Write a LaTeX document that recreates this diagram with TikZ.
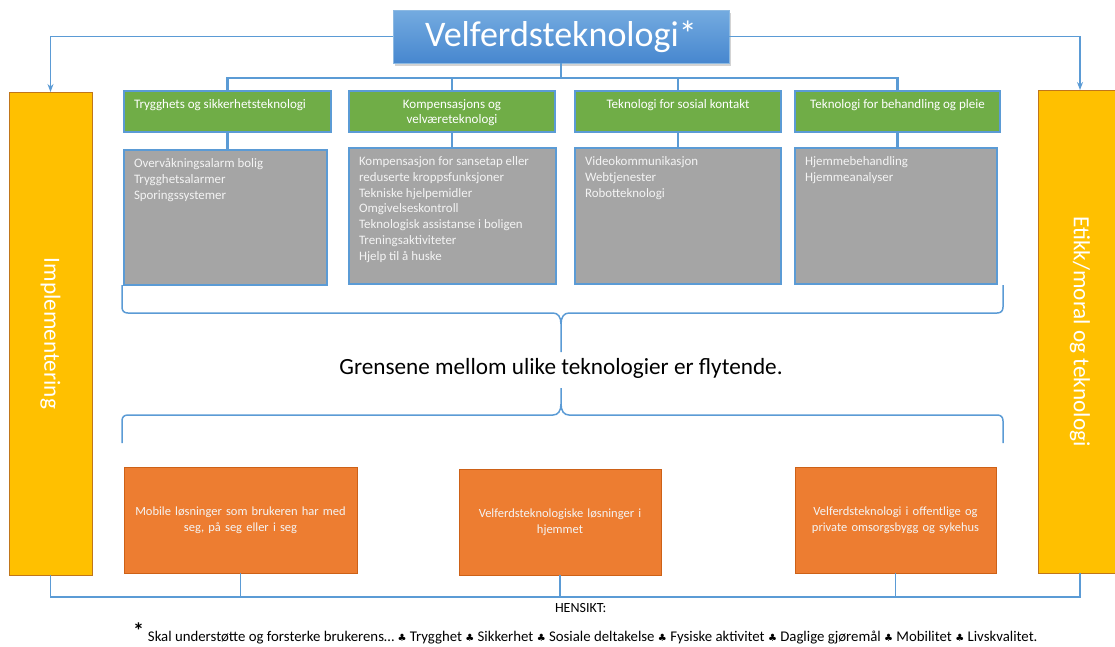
\documentclass[tikz,border=0pt]{standalone}
\usepackage{fontspec}
\setmainfont{Carlito}
\newfontfamily\symfont{DejaVu Sans}
\usetikzlibrary{arrows.meta,shadows}
\definecolor{ablue}{HTML}{5B9BD5}
\definecolor{tbluetop}{HTML}{74ABE0}
\definecolor{tbluebot}{HTML}{4787CF}
\definecolor{agreen}{HTML}{70AD47}
\definecolor{agrey}{HTML}{A5A5A5}
\definecolor{aorange}{HTML}{ED7D31}
\definecolor{aorangedark}{HTML}{C55A11}
\definecolor{ayellow}{HTML}{FFC000}
\definecolor{ayellowdark}{HTML}{C0761A}
\definecolor{paletext}{HTML}{F4F4F4}
\newcommand{\club}{{\symfont\fontsize{10}{10}\selectfont ♣}}
\begin{document}
\begin{tikzpicture}[x=1pt,y=-1pt,
  every node/.style={outer sep=0pt},
  titlebox/.style={top color=tbluetop,bottom color=tbluebot,draw=ablue!70!white,line width=0.8pt,
    drop shadow={opacity=0.35,shadow xshift=1.5pt,shadow yshift=-2.5pt},
    text=white,font=\fontsize{36}{40}\selectfont,inner sep=0pt,anchor=north west},
  headbox/.style={fill=agreen,draw=ablue,line width=2.2pt,inner sep=0pt,anchor=north west},
  headtext/.style={text=white,font=\fontsize{13}{15}\selectfont,inner sep=0pt,align=center,anchor=north},
  greybox/.style={fill=agrey,draw=ablue,line width=2.2pt,inner sep=0pt,anchor=north west},
  greytext/.style={text=paletext,font=\fontsize{12.9}{15.8}\selectfont,inner sep=0pt,align=left,anchor=north west},
  sidebox/.style={fill=ayellow,draw=ayellowdark,line width=0.9pt,inner sep=0pt,anchor=north west},
  sidetext/.style={text=white,font=\fontsize{23.2}{26}\selectfont,rotate=-90,inner sep=0pt},
  obox/.style={fill=aorange,draw=aorangedark!80!aorange,line width=0.9pt,inner sep=4pt,anchor=north west,
    text=paletext,align=center,font=\fontsize{12.5}{16}\selectfont},
  tree/.style={draw=ablue,line width=2.2pt},
  outer/.style={draw=ablue,line width=1.1pt},
  brace/.style={draw=ablue,line width=1.5pt,line join=round}
]
\useasboundingbox (0,0) rectangle (1115,646);

% title
\node[titlebox,minimum width=336,minimum height=53] (title) at (393,10) {Velferdsteknologi*};

% side boxes
\node[sidebox,minimum width=83,minimum height=483] (impl) at (9,92) {};
\node[sidetext] (implt) at (impl.center) {Implementering};
\node[sidebox,minimum width=84,minimum height=483] (etikk) at (1038,90) {};
\node[sidetext] (etikkt) at (etikk.center) {Etikk/moral og teknologi};

% headers
\node[headbox,minimum width=207,minimum height=41] (h1) at (124,91) {};
\node[headbox,minimum width=206,minimum height=41] (h2) at (349,91) {};
\node[headbox,minimum width=206,minimum height=41] (h3) at (575,91) {};
\node[headbox,minimum width=205,minimum height=41] (h4) at (795,91) {};
\node[headtext,anchor=north west] (h1t) at ([shift={(10,8.5)}]h1.north west) {Trygghets og sikkerhetsteknologi};
\node[headtext] (h2t) at ([shift={(0,8.5)}]h2.north) {Kompensasjons og\\velværeteknologi};
\node[headtext] (h3t) at ([shift={(0,8.5)}]h3.north) {Teknologi for sosial kontakt};
\node[headtext] (h4t) at ([shift={(0,8.5)}]h4.north) {Teknologi for behandling og pleie};

% grey boxes
\node[greybox,minimum width=203,minimum height=135] (g1) at (124,150) {};
\node[greybox,minimum width=207,minimum height=136] (g2) at (349,148) {};
\node[greybox,minimum width=206,minimum height=136] (g3) at (575,148) {};
\node[greybox,minimum width=202,minimum height=136] (g4) at (795,148) {};
\node[greytext] (g1t) at ([shift={(10,8.5)}]g1.north west) {Overvåkningsalarm bolig\\Trygghetsalarmer\\Sporingssystemer};
\node[greytext] (g2t) at ([shift={(10,8.5)}]g2.north west) {Kompensasjon for sansetap eller\\reduserte kroppsfunksjoner\\Tekniske hjelpemidler\\Omgivelseskontroll\\Teknologisk assistanse i boligen\\Treningsaktiviteter\\Hjelp til å huske};
\node[greytext] (g3t) at ([shift={(10,8.5)}]g3.north west) {Videokommunikasjon\\Webtjenester\\Robotteknologi};
\node[greytext] (g4t) at ([shift={(10,8.5)}]g4.north west) {Hjemmebehandling\\Hjemmeanalyser};

% tree
\coordinate (bus) at (561,78);
\draw[tree] (title.south) -- (bus);
\draw[tree] (h1.north) |- (bus) -| (h4.north);
\draw[tree] (h2.north) -- (h2.north |- bus);
\draw[tree] (h3.north) -- (h3.north |- bus);
\draw[tree] (h1.south) -- (h1.south |- g1.north);
\draw[tree] (h2.south) -- (h2.south |- g2.north);
\draw[tree] (h3.south) -- (h3.south |- g3.north);
\draw[tree] (h4.south) -- (h4.south |- g4.north);

% outer arrows
\draw[outer,-{Stealth[length=8pt,width=6pt]}] (title.west) -| (impl.north);
\draw[outer,-{Stealth[length=8pt,width=6pt]}] (title.east) -| (etikk.north);

% braces
\draw[brace] (122,285) -- (122,307) .. controls (122,311) and (124,313) .. (128,313) -- (553,313)
  .. controls (558,313) and (561,317) .. (561,324) -- (561,352);
\draw[brace] (1003,285) -- (1003,307) .. controls (1003,311) and (1001,313) .. (997,313) -- (569,313)
  .. controls (564,313) and (561,317) .. (561,324);
\node[font=\fontsize{23.2}{26}\selectfont,inner sep=0pt] (gr) at (561,368) {Grensene mellom ulike teknologier er flytende.};
\draw[brace] (561,388) -- (561,404) .. controls (561,411) and (558,415) .. (553,415) -- (128,415)
  .. controls (124,415) and (122,417) .. (122,421) -- (122,443);
\draw[brace] (561,404) .. controls (561,411) and (564,415) .. (569,415) -- (997,415)
  .. controls (1001,415) and (1003,417) .. (1003,421) -- (1003,443);

% orange boxes
\node[obox,minimum width=233,minimum height=106,text width=225] (o1) at (124,467) {Mobile løsninger som brukeren har med\\seg, på seg eller i seg};
\node[obox,minimum width=202,minimum height=106,text width=194] (o2) at (459,469) {Velferdsteknologiske løsninger i\\hjemmet};
\node[obox,minimum width=201,minimum height=106,text width=193] (o3) at (795,467) {Velferdsteknologi i offentlige og\\private omsorgsbygg og sykehus};

% bottom bus
\coordinate (bb) at (560,597);
\draw[outer] (impl.south) |- (bb) -| (etikk.south);
\draw[outer] (o1.south) -- (o1.south |- bb);
\draw[outer] (o2.south) -- (o2.south |- bb);
\draw[outer] (o3.south) -- (o3.south |- bb);

\node[font=\fontsize{14}{16}\selectfont,inner sep=0pt,anchor=west] (hensikt) at (555,608) {HENSIKT:};
\node[font=\fontsize{14.8}{16}\selectfont,inner sep=0pt,anchor=base west] (fn) at (133,641)
  {\raisebox{3pt}{\fontsize{22}{22}\selectfont\bfseries *}\hspace{4pt}Skal understøtte og forsterke brukerens… \club\ Trygghet \club\ Sikkerhet \club\ Sosiale deltakelse \club\ Fysiske aktivitet \club\ Daglige gjøremål \club\ Mobilitet \club\ Livskvalitet.};
\end{tikzpicture}
\end{document}
